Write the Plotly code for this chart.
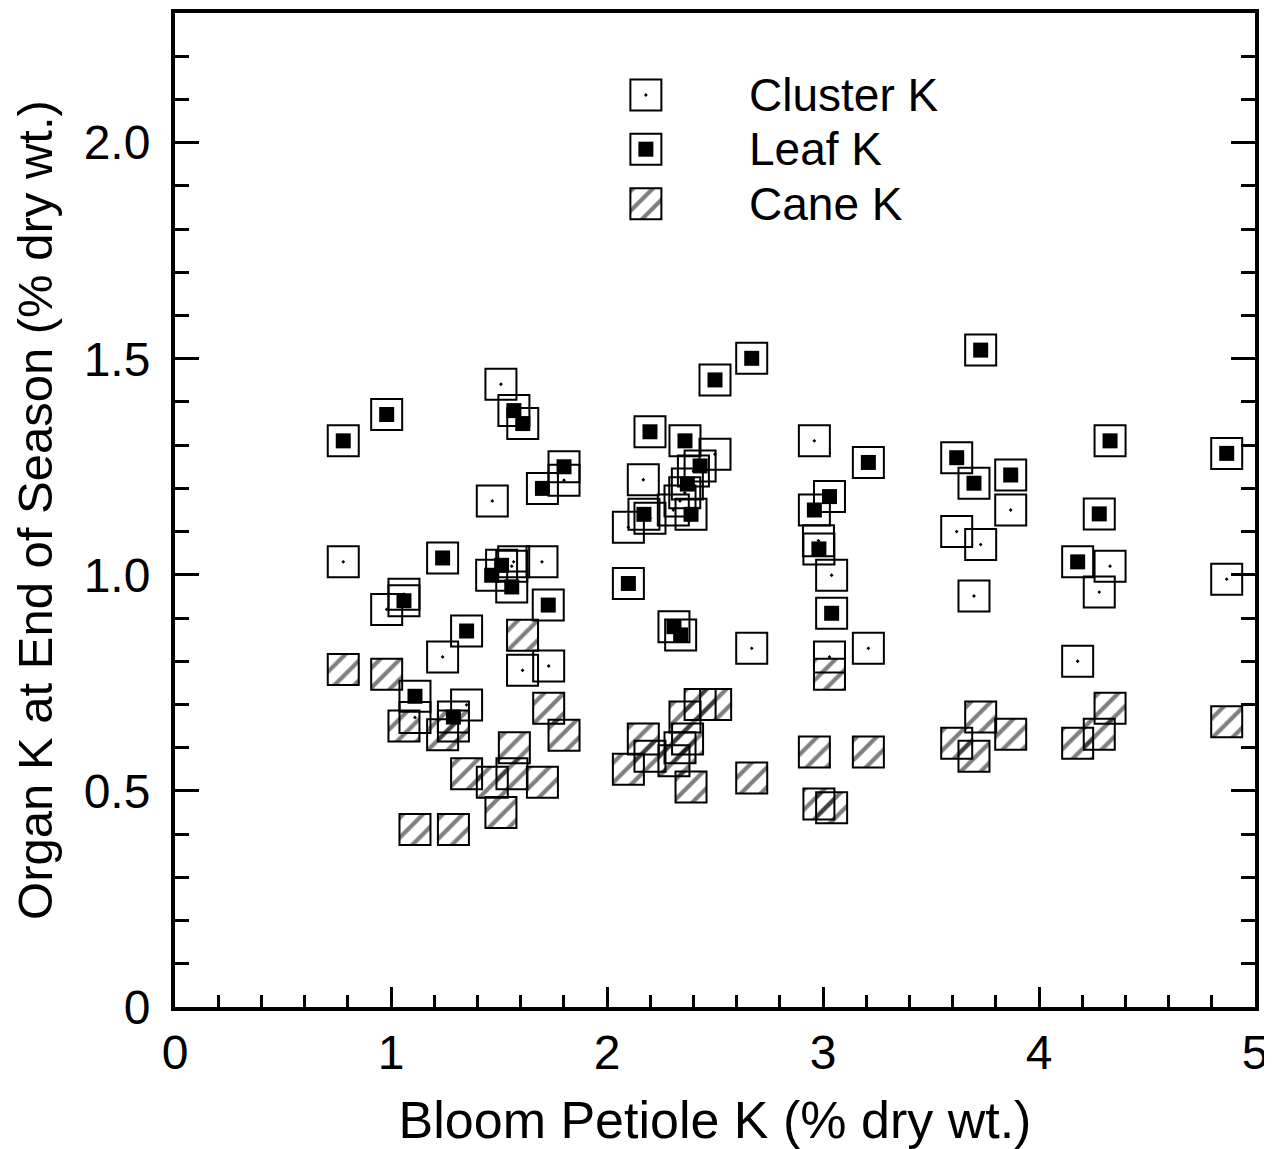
import plotly.graph_objects as go

# ---------------- data ----------------
cluster_x = [1.509, 1.801, 1.469, 0.779, 1.699, 1.568, 1.559, 0.980, 1.060,
             2.500, 2.168, 2.338, 2.307, 2.199, 2.099, 2.400, 2.360,
             2.960, 2.979, 3.040, 2.670, 3.210, 3.030,
             3.869, 3.619, 3.730, 4.329, 4.279, 4.869, 3.699, 4.179,
             1.239, 1.609, 1.730, 1.111, 1.350]
cluster_y = [1.441, 1.219, 1.171, 1.030, 1.030, 1.030, 1.020, 0.920, 0.955,
             1.279, 1.220, 1.171, 1.150, 1.131, 1.110, 1.240, 1.190,
             1.310, 1.079, 0.999, 0.830, 0.830, 0.810,
             1.150, 1.100, 1.070, 1.020, 0.960, 0.990, 0.951, 0.800,
             0.810, 0.779, 0.789, 0.670, 0.699]

leaf_x = [1.569, 1.610, 0.980, 0.779, 1.801, 1.701, 1.239, 1.512, 1.466, 1.559,
          1.728, 1.060, 1.350, 2.670, 2.500, 2.199, 2.361, 2.431, 2.372, 2.389,
          2.171, 2.099, 2.310, 2.341, 3.210, 3.030, 2.960, 2.981, 3.040, 3.730,
          4.329, 4.869, 3.619, 3.699, 3.869, 4.279, 4.179, 1.111, 1.289]
leaf_y = [1.380, 1.350, 1.371, 1.310, 1.250, 1.200, 1.039, 1.022, 0.999, 0.972,
          0.930, 0.940, 0.870, 1.501, 1.451, 1.331, 1.310, 1.252, 1.210, 1.140,
          1.140, 0.980, 0.880, 0.861, 1.260, 1.181, 1.150, 1.060, 0.911, 1.520,
          1.310, 1.281, 1.271, 1.212, 1.231, 1.141, 1.030, 0.719, 0.671]

cane_x = [1.609, 3.730, 3.619, 3.699, 3.869, 4.329, 4.179, 4.279, 4.869, 3.030,
          2.431, 2.503, 2.361, 2.168, 2.373, 2.338, 2.199, 2.310, 2.099, 2.389,
          2.670, 2.960, 3.210, 2.981, 3.040, 0.779, 0.980, 1.060, 1.239, 1.289,
          1.571, 1.730, 1.801, 1.350, 1.469, 1.560, 1.701, 1.509, 1.111, 1.289]
cane_y = [0.860, 0.671, 0.610, 0.580, 0.631, 0.691, 0.610, 0.631, 0.660, 0.770,
          0.700, 0.700, 0.671, 0.620, 0.620, 0.600, 0.580, 0.570, 0.550, 0.509,
          0.530, 0.590, 0.590, 0.470, 0.461, 0.781, 0.770, 0.650, 0.630, 0.650,
          0.600, 0.691, 0.629, 0.540, 0.520, 0.540, 0.520, 0.450, 0.411, 0.411]

series_names = ["Cluster K", "Leaf K", "Cane K"]
x_tick_vals = [0, 1, 2, 3, 4, 5]
x_tick_text = ["0", "1", "2", "3", "4", "5"]
y_tick_vals = [0, 0.5, 1.0, 1.5, 2.0]
y_tick_text = ["0", "0.5", "1.0", "1.5", "2.0"]
x_title = "Bloom Petiole K (% dry wt.)"
y_title = "Organ K at End of Season (% dry wt.)"

# ---------------- layout constants ----------------
# the page body has an 8px margin, so the figure is drawn slightly smaller
W, H = 1264, 1141
ML, MR, MT, MB = 167, 17, 5, 142
PW, PH = W - ML - MR, H - MT - MB
XR = [0, 5]
YR = [0, 2.3]
BOX = 31          # marker box size in px
INNER = 15
LW = 2
FONT = "Liberation Sans, Arial, Helvetica, sans-serif"

# box size in data units for hatched (bar) markers
bw = BOX * (XR[1] - XR[0]) / PW
bh = BOX * (YR[1] - YR[0]) / PH

fig = go.Figure()

pattern = dict(shape="/", fgcolor="black", bgcolor="rgba(0,0,0,0)", size=14, solidity=0.3)

# Cane K: hatched boxes
fig.add_trace(go.Bar(
    x=cane_x, y=[bh] * len(cane_x), base=[v - bh / 2 for v in cane_y], width=bw,
    marker=dict(color="rgba(0,0,0,0)", line=dict(color="black", width=LW), pattern=pattern),
    name=series_names[2], showlegend=False,
))

# Cluster K: open square with dot
fig.add_trace(go.Scatter(
    x=cluster_x, y=cluster_y, mode="markers", name=series_names[0], showlegend=False,
    marker=dict(symbol="square-open-dot", size=BOX, color="black", line=dict(width=LW, color="black")),
))

# Leaf K: open square with filled inner square
fig.add_trace(go.Scatter(
    x=leaf_x, y=leaf_y, mode="markers", name=series_names[1], showlegend=False,
    marker=dict(symbol="square-open", size=BOX, color="black", line=dict(width=LW, color="black")),
))
fig.add_trace(go.Scatter(
    x=leaf_x, y=leaf_y, mode="markers", name=series_names[1], showlegend=False,
    marker=dict(symbol="square", size=INNER, color="black", line=dict(width=0)),
))

# ---------------- manual legend on an overlay axis (0-1 = plot area) ----------------
leg_x = 0.436
leg_y = [0.9175, 0.863, 0.808]
text_x = 0.5296
fig.add_trace(go.Scatter(
    x=[leg_x], y=[leg_y[0]], xaxis="x2", yaxis="y2", mode="markers", showlegend=False, hoverinfo="skip",
    marker=dict(symbol="square-open-dot", size=BOX, color="black", line=dict(width=LW, color="black")),
))
fig.add_trace(go.Scatter(
    x=[leg_x], y=[leg_y[1]], xaxis="x2", yaxis="y2", mode="markers", showlegend=False, hoverinfo="skip",
    marker=dict(symbol="square-open", size=BOX, color="black", line=dict(width=LW, color="black")),
))
fig.add_trace(go.Scatter(
    x=[leg_x], y=[leg_y[1]], xaxis="x2", yaxis="y2", mode="markers", showlegend=False, hoverinfo="skip",
    marker=dict(symbol="square", size=INNER, color="black", line=dict(width=0)),
))
fig.add_trace(go.Bar(
    x=[leg_x], y=[BOX / PH], base=[leg_y[2] - BOX / PH / 2], width=BOX / PW,
    xaxis="x2", yaxis="y2", showlegend=False, hoverinfo="skip",
    marker=dict(color="rgba(0,0,0,0)", line=dict(color="black", width=LW), pattern=pattern),
))
for name, yy in zip(series_names, leg_y):
    fig.add_annotation(x=text_x, y=yy, xref="paper", yref="paper", text=name, showarrow=False,
                       xanchor="left", yanchor="middle", font=dict(size=46, color="black", family=FONT))

fig.update_layout(
    width=W, height=H,
    margin=dict(l=ML, r=MR, t=MT, b=MB, autoexpand=False),
    paper_bgcolor="white", plot_bgcolor="white",
    barmode="overlay",
    showlegend=False,
    font=dict(family=FONT, color="black", size=48),
    xaxis=dict(
        range=XR, tickvals=x_tick_vals, ticktext=x_tick_text, automargin=False,
        ticks="inside", ticklen=20, tickwidth=3, tickcolor="black",
        minor=dict(dtick=0.2, ticks="inside", ticklen=12, tickwidth=3, tickcolor="black", showgrid=False),
        showline=True, linewidth=4, linecolor="black", mirror=True,
        showgrid=False, zeroline=False,
        tickfont=dict(size=48), ticklabelstandoff=0,
        title=dict(text=x_title, font=dict(size=52), standoff=33),
    ),
    yaxis=dict(
        range=YR, tickvals=y_tick_vals, ticktext=y_tick_text, automargin=False,
        ticks="inside", ticklen=24, tickwidth=3, tickcolor="black",
        minor=dict(dtick=0.1, ticks="inside", ticklen=14, tickwidth=3, tickcolor="black", showgrid=False),
        showline=True, linewidth=4, linecolor="black", mirror="ticks",
        showgrid=False, zeroline=False,
        tickfont=dict(size=48), ticklabelstandoff=11,
        title=dict(text=y_title, font=dict(size=49), standoff=18),
    ),
    xaxis2=dict(range=[0, 1], overlaying="x", visible=False, fixedrange=True),
    yaxis2=dict(range=[0, 1], overlaying="y", visible=False, fixedrange=True),
)

fig.write_html("out.html")
